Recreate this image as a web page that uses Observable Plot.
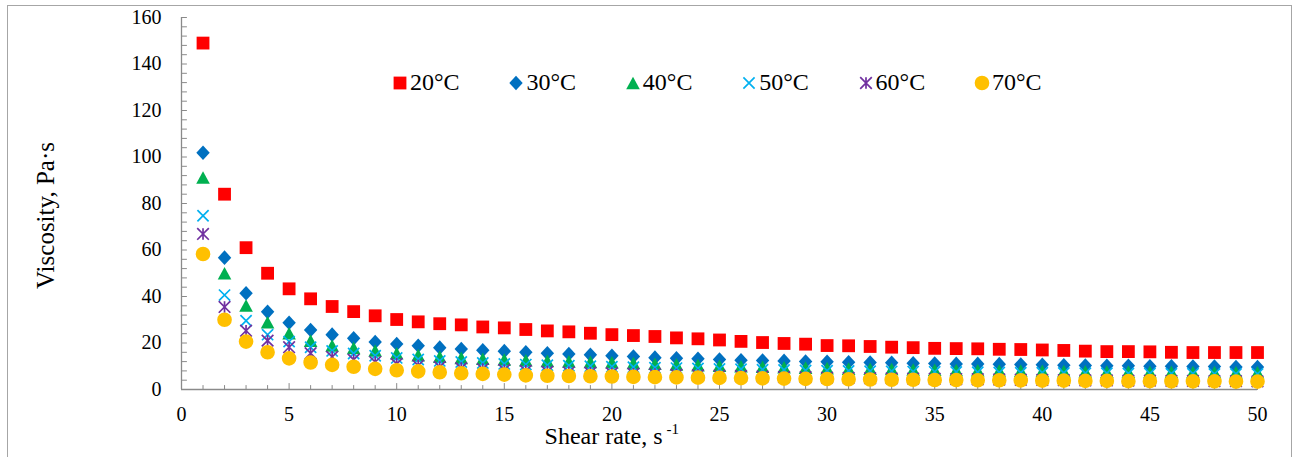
<!DOCTYPE html>
<html><head><meta charset="utf-8">
<script src="https://cdn.jsdelivr.net/npm/d3@7"></script>
<script src="https://cdn.jsdelivr.net/npm/@observablehq/plot@0.6"></script>
<style>
body{margin:0;background:#fff;}
#wrap{position:relative;width:1293px;height:457px;font-family:"Liberation Serif","Times New Roman",serif;overflow:hidden;}
#wrap svg.plot{position:absolute;left:0;top:0;}
#wrap svg text{font-family:"Liberation Serif","Times New Roman",serif;}
#border{position:absolute;left:7px;top:5px;width:1285px;height:460px;border:1px solid #a6a6a6;box-sizing:border-box;pointer-events:none;}
#legend{position:absolute;left:392px;top:69px;display:flex;}
.item{display:flex;align-items:center;width:116.4px;font-size:24px;color:#000;white-space:nowrap;}
.item svg{margin-right:2px;overflow:visible;}
</style></head>
<body><div id="wrap"><div id="border"></div><div id="legend"></div></div>
<script>
// ---- data ----
const shearRate = [1,2,3,4,5,6,7,8,9,10,11,12,13,14,15,16,17,18,19,20,21,22,23,24,25,26,27,28,29,30,31,32,33,34,35,36,37,38,39,40,41,42,43,44,45,46,47,48,49,50];
const seriesNames = ["20°C","30°C","40°C","50°C","60°C","70°C"];
const seriesColors = ["#FF0000","#0070C0","#00B050","#00B0F0","#7030A0","#FFC000"];
const visc20 = [149,84,61,50,43.3,39,35.7,33.5,31.7,30.1,29.1,28.3,27.8,26.9,26.5,25.8,25.2,24.8,24.2,23.6,23.2,22.8,22.2,21.8,21.3,20.7,20.2,19.8,19.5,18.9,18.8,18.5,18.2,18.0,17.7,17.6,17.5,17.3,17.2,17.0,16.8,16.5,16.3,16.3,16.2,16.0,15.9,15.9,15.9,15.9];
const visc30 = [101.8,56.7,41.4,33.4,28.7,25.6,23.6,22.0,20.4,19.6,18.8,18.0,17.4,16.9,16.5,16.0,15.6,15.3,14.9,14.5,14.2,13.7,13.4,13.2,12.9,12.6,12.5,12.3,12.0,11.9,11.7,11.6,11.5,11.3,11.2,11.0,11.0,10.9,10.7,10.6,10.4,10.3,10.2,10.2,10.0,10.0,9.9,9.9,9.7,9.7];
const visc40 = [91.2,50.0,36.1,28.9,24.2,21.0,18.9,17.9,16.8,15.6,14.8,14.1,13.6,13.2,12.9,12.6,12.3,12.1,11.9,11.7,11.4,11.1,10.8,10.5,10.2,10.0,9.8,9.6,9.4,9.2,9.0,8.9,8.8,8.6,8.5,8.4,8.3,8.2,8.1,8.0,7.9,7.8,7.7,7.7,7.6,7.6,7.5,7.5,7.4,7.4];
const visc50 = [74.7,40.6,29.6,23.6,20.6,18.2,16.6,15.5,14.5,13.6,12.9,12.3,11.8,11.4,11.0,10.7,10.4,10.2,10.0,9.8,9.6,9.4,9.2,9.0,8.8,8.7,8.5,8.4,8.2,8.1,8.0,7.9,7.8,7.7,7.6,7.5,7.4,7.3,7.2,7.2,7.1,7.0,7.0,6.9,6.9,6.8,6.8,6.7,6.7,6.7];
const visc60 = [66.9,35.5,25.3,21.0,18.2,15.6,14.0,12.8,11.8,11.0,10.3,9.7,9.2,8.8,8.4,8.0,7.7,7.4,7.2,7.0,6.8,6.6,6.4,6.2,6.0,5.8,5.6,5.4,5.3,5.1,5.0,4.9,4.8,4.7,4.6,4.5,4.4,4.3,4.2,4.1,4.0,3.9,3.9,3.8,3.8,3.7,3.7,3.6,3.6,3.5];
const visc70 = [58.3,30.0,20.6,16.0,13.4,11.6,10.6,9.8,8.9,8.3,7.8,7.4,7.0,6.7,6.4,6.1,5.9,5.8,5.7,5.6,5.4,5.3,5.2,5.1,5.0,4.9,4.8,4.7,4.6,4.5,4.4,4.3,4.2,4.2,4.1,4.1,4.0,4.0,3.9,3.8,3.8,3.7,3.7,3.6,3.6,3.5,3.5,3.5,3.4,3.4];
const xTickLabels = [0,5,10,15,20,25,30,35,40,45,50];
const yTickLabels = [0,20,40,60,80,100,120,140,160];
const xMinorTicks = [0,1,2,3,4,6,7,8,9,11,12,13,14,16,17,18,19,21,22,23,24,26,27,28,29,31,32,33,34,36,37,38,39,41,42,43,44,46,47,48,49];
const yMinorTicks = [0,4,8,12,16,20,24,28,32,36,40,44,48,52,56,60,64,68,72,76,80,84,88,92,96,100,104,108,112,116,120,124,128,132,136,140,144,148,152,156,160];
const xTitle = "Shear rate, s";
const xTitleSup = "-1";
const yTitle = "Viscosity, Pa·s";

const serif = "'Liberation Serif','Times New Roman',serif";

// ---- Excel-like marker shapes ----
const sqH = {draw(c,s){const h=Math.sqrt(s)/2;c.moveTo(-h,-h);c.lineTo(h,-h);c.lineTo(h,h);c.lineTo(-h,h);c.closePath();}};
const diaH = {draw(c,s){const h=Math.sqrt(s)/2;c.moveTo(0,-h);c.lineTo(h*0.92,0);c.lineTo(0,h);c.lineTo(-h*0.92,0);c.closePath();}};
const triH = {draw(c,s){const h=Math.sqrt(s)/2;c.moveTo(0,-h);c.lineTo(h*1.08,h);c.lineTo(-h*1.08,h);c.closePath();}};
const timesH = {draw(c,s){const h=Math.sqrt(s)/2;c.moveTo(-h,-h);c.lineTo(h,h);c.moveTo(-h,h);c.lineTo(h,-h);}};
const starH = {draw(c,s){const h=Math.sqrt(s)/2;c.moveTo(0,-h);c.lineTo(0,h);c.moveTo(-h,-h);c.lineTo(h,h);c.moveTo(-h,h);c.lineTo(h,-h);}};
const circH = {draw(c,s){const r=Math.sqrt(s)/2*1.2;c.moveTo(r,0);c.arc(0,0,r,0,2*Math.PI);}};
// half-size h = 0.886*r
const markerDefs = [
  {symbol: sqH,    r: 6.4/0.886, filled: true},
  {symbol: diaH,   r: 7.3/0.886, filled: true},
  {symbol: triH,   r: 6.3/0.886, filled: true},
  {symbol: timesH, r: 5.6/0.886, filled: false},
  {symbol: starH,  r: 5.8/0.886, filled: false},
  {symbol: circH,  r: 6.1/0.886, filled: true}
];
const allValues = [visc20, visc30, visc40, visc50, visc60, visc70];

const rows = allValues.map(vals => shearRate.map((x,i) => ({rate: x, visc: vals[i]})));

const axisColor = "#8a8a8a";
const tickLine = {draw(c,l){c.moveTo(0,0);c.lineTo(0,-l);}};

const dotMarks = rows.map((data, k) => {
  const m = markerDefs[k];
  return Plot.dot(data, {
    x: "rate", y: "visc", symbol: m.symbol, r: m.r,
    fill: m.filled ? seriesColors[k] : "none",
    stroke: m.filled ? "none" : seriesColors[k],
    strokeWidth: m.filled ? 0 : 1.7
  });
});

const plot = Plot.plot({
  width: 1293, height: 457,
  marginLeft: 181, marginRight: 36, marginTop: 17, marginBottom: 68,
  x: {domain: [0, 50]},
  y: {domain: [0, 160]},
  style: {fontFamily: serif, fontSize: "20px", color: "#000", background: "transparent", overflow: "visible"},
  marks: [
    Plot.ruleY([0], {stroke: axisColor, strokeWidth: 1.6}),
    Plot.ruleX([0], {stroke: axisColor, strokeWidth: 1.3}),
    Plot.vector(xMinorTicks, {x: d => d, y: 0, length: 4, rotate: 0, anchor: "start", shape: tickLine, stroke: axisColor, strokeWidth: 1}),
    Plot.vector(xTickLabels, {x: d => d, y: 0, length: 6, rotate: 0, anchor: "start", shape: tickLine, stroke: axisColor, strokeWidth: 1}),
    Plot.vector(yMinorTicks, {x: 0, y: d => d, length: 5, rotate: 90, anchor: "start", shape: tickLine, stroke: axisColor, strokeWidth: 1}),
    Plot.axisX(xTickLabels, {tickSize: 0, tickPadding: 17, label: null, fontSize: 20, fontFamily: serif, fill: "#000"}),
    Plot.axisY(yTickLabels, {tickSize: 0, tickPadding: 20, label: null, fontSize: 20, fontFamily: serif, fill: "#000"}),
    ...dotMarks,
    Plot.text([yTitle], {frameAnchor: "left", rotate: -90, dx: -136, dy: 12, textAnchor: "middle", lineAnchor: "middle", fontSize: 25, fontFamily: serif, fill: "#000"}),
    Plot.text([xTitle], {frameAnchor: "bottom", dx: -57, dy: 47, textAnchor: "end", lineAnchor: "middle", fontSize: 24, fontFamily: serif, fill: "#000"}),
    Plot.text([xTitleSup], {frameAnchor: "bottom", dx: -53, dy: 40, textAnchor: "start", lineAnchor: "middle", fontSize: 15, fontFamily: serif, fill: "#000"})
  ]
});
const wrap = document.getElementById("wrap");
wrap.insertBefore(plot, wrap.firstChild);

// ---- legend ----
const legend = d3.select("#legend");
seriesNames.forEach((name, k) => {
  const m = markerDefs[k];
  const item = legend.append("div").attr("class", "item");
  const svg = item.append("svg").attr("width", 16).attr("height", 16);
  svg.append("path")
    .attr("transform", "translate(8,8)")
    .attr("d", d3.symbol(m.symbol, Math.PI * m.r * m.r)())
    .attr("fill", m.filled ? seriesColors[k] : "none")
    .attr("stroke", m.filled ? "none" : seriesColors[k])
    .attr("stroke-width", m.filled ? 0 : 1.7);
  item.append("span").text(name);
});
</script>
</body></html>
